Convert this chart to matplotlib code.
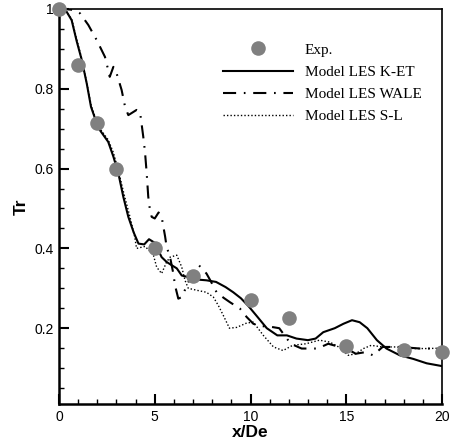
import numpy as np
import matplotlib.pyplot as plt
from matplotlib.ticker import MultipleLocator, FuncFormatter

# Experimental points
exp_x = [0, 1, 2, 3, 5, 7, 10, 12, 15, 18, 20]
exp_y = [1.0, 0.86, 0.715, 0.60, 0.40, 0.33, 0.27, 0.225, 0.155, 0.145, 0.14]

# Model LES K-ET
ket_x = [0, 0.4, 0.66, 0.92, 1.19, 1.45, 1.67, 1.88, 2.14, 2.57, 2.84, 3.1, 3.36, 3.62,
         3.9, 4.15, 4.45, 4.7, 5.0, 5.36, 5.62, 5.88, 6.15, 6.41, 6.75, 7.2, 7.7, 8.2,
         8.7, 9.1, 9.5, 9.9, 10.3, 10.85, 11.4, 11.9, 12.4, 13.0, 13.4, 13.8, 14.4,
         14.85, 15.3, 15.7, 16.1, 16.6, 17.1, 17.8, 18.5, 19.2, 20.0]
ket_y = [1.0, 0.993, 0.972, 0.92, 0.872, 0.813, 0.755, 0.726, 0.696, 0.667, 0.63, 0.588,
         0.529, 0.479, 0.44, 0.412, 0.41, 0.423, 0.414, 0.378, 0.366, 0.358, 0.35, 0.332,
         0.328, 0.322, 0.32, 0.316, 0.303, 0.29, 0.275, 0.255, 0.232, 0.2, 0.182, 0.182,
         0.174, 0.17, 0.174, 0.19, 0.2, 0.211, 0.22, 0.215, 0.2, 0.17, 0.149, 0.132,
         0.123, 0.112, 0.105]

# Model LES WALE
wale_x = [0, 0.3, 0.7, 1.1, 1.53, 1.97, 2.4, 2.57, 2.65, 2.84, 3.0, 3.27, 3.45, 3.62,
          4.05, 4.23, 4.31, 4.4, 4.49, 4.58, 4.66, 4.75, 4.84, 5.0, 5.2, 5.36, 5.54,
          5.62, 5.8, 5.97, 6.06, 6.23, 6.41, 6.8, 7.3, 7.7, 7.9, 8.23, 8.6, 8.93, 9.45,
          9.8, 10.15, 10.6, 11.0, 11.5, 12.1, 12.67, 13.1, 13.5, 14.06, 14.5, 15.0,
          15.5, 16.0, 16.4, 16.9, 17.8, 18.85, 19.5, 20.0]
wale_y = [1.0, 1.0, 0.998, 0.989, 0.96, 0.922, 0.88, 0.847, 0.83, 0.855, 0.84, 0.797,
          0.755, 0.734, 0.747, 0.742, 0.713, 0.68, 0.642, 0.588, 0.53, 0.496, 0.479,
          0.475, 0.49, 0.479, 0.43, 0.404, 0.378, 0.337, 0.307, 0.274, 0.278, 0.32,
          0.358, 0.337, 0.32, 0.29, 0.276, 0.265, 0.249, 0.228, 0.211, 0.205, 0.204,
          0.2, 0.161, 0.149, 0.149, 0.149, 0.161, 0.155, 0.149, 0.136, 0.14, 0.132,
          0.153, 0.153, 0.149, 0.149, 0.149]

# Model LES S-L
sl_x = [0, 0.4, 0.66, 0.92, 1.19, 1.45, 1.67, 1.88, 2.14, 2.57, 2.84, 3.1, 3.4, 3.7,
        3.95, 4.05, 4.5, 4.93, 5.1, 5.36, 5.62, 5.8, 6.15, 6.41, 6.58, 6.75, 7.2, 7.7,
        8.06, 8.32, 8.58, 8.9, 9.28, 9.8, 10.15, 10.67, 11.2, 11.7, 12.2, 12.9, 13.6,
        14.15, 14.6, 15.1, 15.5, 15.9, 16.3, 16.9, 17.6, 18.5, 19.2, 20.0]
sl_y = [1.0, 0.993, 0.975, 0.925, 0.875, 0.815, 0.76, 0.73, 0.7, 0.672, 0.64, 0.595,
        0.535, 0.48, 0.43, 0.4, 0.405, 0.383, 0.353, 0.337, 0.366, 0.378, 0.383, 0.353,
        0.32, 0.3, 0.295, 0.29, 0.278, 0.257, 0.232, 0.2, 0.202, 0.213, 0.215, 0.182,
        0.153, 0.144, 0.157, 0.161, 0.17, 0.165, 0.153, 0.132, 0.136, 0.149, 0.157,
        0.153, 0.153, 0.149, 0.149, 0.15]

fig = plt.figure(figsize=(4.51, 4.44), dpi=100)
ax = fig.add_axes([59/451, 1 - 404/444, (442 - 59)/451, (404 - 9)/444])

ax.plot(exp_x, exp_y, 'o', color='#808080', markersize=10.5, markeredgewidth=0,
        label='Exp.', clip_on=False, zorder=3)
ax.plot(ket_x, ket_y, '-', color='black', lw=1.5, label='Model LES K-ET')
ax.plot(wale_x, wale_y, color='black', lw=1.5, linestyle=(0, (6.3, 3.7, 0.8, 3.7)),
        label='Model LES WALE')
ax.plot(sl_x, sl_y, color='black', lw=1.0, linestyle=(0, (1, 1.5)),
        label='Model LES S-L')

ax.set_xlim(0, 20)
ax.set_ylim(0.01, 1.0)
ax.xaxis.set_major_locator(MultipleLocator(5))
ax.xaxis.set_minor_locator(MultipleLocator(1))
ax.yaxis.set_major_locator(MultipleLocator(0.2))
ax.yaxis.set_minor_locator(MultipleLocator(0.05))
ax.yaxis.set_major_formatter(FuncFormatter(lambda v, p: '%g' % round(v, 2)))

ax.tick_params(which='both', direction='in', top=False, right=False)
ax.tick_params(which='major', length=7, width=1.5, labelsize=10, pad=4)
ax.tick_params(which='minor', length=3.5, width=1.0)
for lbl in ax.get_xticklabels() + ax.get_yticklabels():
    lbl.set_family('Liberation Sans')

ax.spines['left'].set_linewidth(1.8)
ax.spines['bottom'].set_linewidth(1.8)
ax.spines['top'].set_linewidth(1.2)
ax.spines['right'].set_linewidth(1.2)

ax.set_xlabel('x/De', fontsize=12.5, fontweight='bold', family='Liberation Sans', labelpad=1)
ax.set_ylabel('Tr', fontsize=12.5, fontweight='bold', family='Liberation Sans', labelpad=3.5)

ax.legend(loc='upper left', bbox_to_anchor=(223/451, 1 - 43/444),
          bbox_transform=fig.transFigure, frameon=False, borderpad=0,
          borderaxespad=0, handlelength=4.55, handletextpad=0.8, labelspacing=0.56,
          prop={'family': 'Liberation Serif', 'size': 11})

fig.savefig('out.png', dpi=100)
